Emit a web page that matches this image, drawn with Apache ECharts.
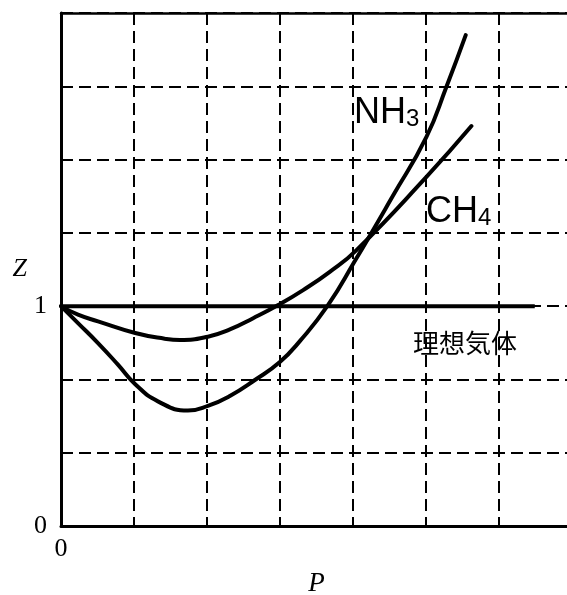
<!DOCTYPE html>
<html>
<head>
<meta charset="utf-8">
<script src="https://cdn.jsdelivr.net/npm/echarts@6/dist/echarts.min.js"></script>
<style>
  html, body { margin: 0; padding: 0; background: #fff; }
  #chart { width: 567px; height: 595px; }
</style>
</head>
<body>
<div id="chart"></div>
<script>
// 圧力 P（目盛り1つ分を1とする）と圧縮因子 Z
var idealP = [0, 6.49];
var idealZ = [1, 1];
var ch4P = [0, 0.233, 0.507, 1.017, 1.42, 1.629, 2.012, 2.313, 2.632, 2.975, 3.317, 3.682, 4.048, 5.006, 5.622];
var ch4Z = [1.0, 0.961, 0.931, 0.878, 0.852, 0.846, 0.861, 0.894, 0.945, 1.005, 1.073, 1.156, 1.255, 1.588, 1.819];
var nh3P = [0, 0.233, 0.507, 0.78, 1.017, 1.328, 1.739, 2.012, 2.313, 2.656, 2.998, 3.272, 3.655, 4.025, 4.545, 5.006, 5.28, 5.544];
var nh3Z = [1.0, 0.923, 0.832, 0.734, 0.645, 0.567, 0.525, 0.546, 0.591, 0.664, 0.746, 0.841, 1.003, 1.205, 1.501, 1.77, 1.998, 2.233];

function pairs(xs, ys) {
  return xs.map(function (x, i) { return [x, ys[i]]; });
}

var chart = echarts.init(document.getElementById('chart'));

var dashed = { color: '#000', width: 2, type: [12, 6] };
var serif = 'Liberation Serif, Times New Roman, serif';
var sans = 'Liberation Sans, Arial, sans-serif';

var option = {
  animation: false,
  backgroundColor: '#fff',
  grid: { left: 61, right: -5, top: 13, bottom: 69, outerBoundsMode: 'none', containLabel: false },
  xAxis: [
    {
      type: 'value',
      min: 0,
      max: 7,
      interval: 1,
      name: 'P',
      nameLocation: 'middle',
      nameGap: 44,
      nameTextStyle: { fontFamily: serif, fontStyle: 'italic', fontSize: 27, color: '#000' },
      axisLine: { onZero: false, lineStyle: { color: '#000', width: 3 } },
      axisTick: { show: false },
      axisLabel: {
        margin: 10,
        fontFamily: serif,
        fontSize: 26,
        color: '#000',
        formatter: function (v) { return v === 0 ? '0' : ''; }
      },
      splitLine: { show: true, lineStyle: dashed }
    },
    {
      type: 'value',
      position: 'top',
      min: 0,
      max: 7,
      interval: 1,
      axisLine: { onZero: false, lineStyle: { color: '#000', width: 2.5 } },
      axisTick: { show: false },
      axisLabel: { show: false },
      splitLine: { show: false }
    }
  ],
  yAxis: {
    type: 'value',
    min: 0,
    max: 7 / 3,
    interval: 1 / 3,
    name: 'Z',
    nameLocation: 'middle',
    nameRotate: 0,
    nameGap: 34,
    nameTextStyle: { fontFamily: serif, fontStyle: 'italic', fontSize: 26, color: '#000' },
    axisLine: { onZero: false, lineStyle: { color: '#000', width: 3 } },
    axisTick: { show: false },
    axisLabel: {
      margin: 14,
      fontFamily: serif,
      fontSize: 26,
      color: '#000',
      formatter: function (v) {
        if (Math.abs(v) < 1e-6) return '0';
        if (Math.abs(v - 1) < 1e-6) return '1';
        return '';
      }
    },
    splitLine: { show: true, lineStyle: dashed }
  },
  series: [
    {
      name: '理想気体',
      type: 'line',
      data: pairs(idealP, idealZ),
      showSymbol: false,
      lineStyle: { color: '#000', width: 4 },
      z: 5
    },
    {
      name: 'CH4',
      type: 'line',
      data: pairs(ch4P, ch4Z),
      smooth: 0.5,
      showSymbol: false,
      lineStyle: { color: '#000', width: 4, cap: 'round' },
      z: 6
    },
    {
      name: 'NH3',
      type: 'line',
      data: pairs(nh3P, nh3Z),
      smooth: 0.5,
      showSymbol: false,
      lineStyle: { color: '#000', width: 4, cap: 'round' },
      z: 6
    }
  ],
  graphic: [
    {
      type: 'text',
      x: 354,
      y: 131,
      style: {
        text: '{a|NH}{b|3}',
        textVerticalAlign: 'bottom',
        rich: {
          a: { fontFamily: sans, fontSize: 36, fill: '#000', verticalAlign: 'bottom' },
          b: { fontFamily: sans, fontSize: 24, fill: '#000', verticalAlign: 'bottom' }
        }
      }
    },
    {
      type: 'text',
      x: 426,
      y: 230,
      style: {
        text: '{a|CH}{b|4}',
        textVerticalAlign: 'bottom',
        rich: {
          a: { fontFamily: sans, fontSize: 36, fill: '#000', verticalAlign: 'bottom' },
          b: { fontFamily: sans, fontSize: 24, fill: '#000', verticalAlign: 'bottom' }
        }
      }
    },
    {
      type: 'text',
      x: 465,
      y: 343,
      style: {
        text: '理想気体',
        font: '26px "Noto Sans CJK JP"',
        fill: '#000',
        textAlign: 'center',
        textVerticalAlign: 'middle'
      }
    }
  ]
};

chart.setOption(option);
</script>
</body>
</html>
